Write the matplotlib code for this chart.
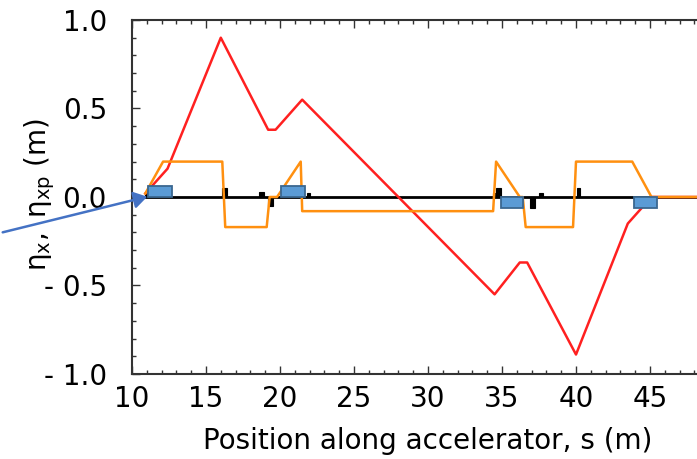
import matplotlib
matplotlib.use("Agg")
import matplotlib.pyplot as plt
from matplotlib.patches import Rectangle
from matplotlib.ticker import MultipleLocator, FuncFormatter

plt.rcParams['font.family'] = ['DejaVu Sans']
plt.rcParams['mathtext.fontset'] = 'dejavusans'

# Dispersion eta_x (red)
s_eta = [10.9, 12.4, 16.0, 19.2, 19.7, 21.5, 34.5, 36.2, 36.7, 40.0, 43.5, 45.1, 50.0]
eta = [0.02, 0.16, 0.90, 0.38, 0.38, 0.55, -0.55, -0.37, -0.37, -0.89, -0.15, 0.0, 0.0]

# Dispersion derivative eta_xp (orange)
s_etap = [10.9, 12.1, 16.1, 16.3, 19.1, 19.3, 19.8, 21.4, 21.5, 34.4, 34.6, 36.2, 36.4, 36.6,
          39.8, 40.0, 43.8, 45.1, 50.0]
etap = [0.02, 0.20, 0.20, -0.17, -0.17, 0.0, 0.0, 0.20, -0.08, -0.08, 0.20, 0.0, 0.0, -0.17,
        -0.17, 0.20, 0.20, 0.0, 0.0]

# Dipoles (blue): start, end, height
dip_s0 = [11.1, 20.1, 34.9, 43.9]
dip_s1 = [12.7, 21.7, 36.4, 45.5]
dip_h = [0.06, 0.06, -0.06, -0.06]

# Small elements (black): start, end, height
q_s0 = [10.9, 16.1, 18.6, 19.2, 21.8, 34.4, 34.6, 36.9, 37.5, 40.1]
q_s1 = [11.1, 16.4, 18.9, 19.5, 22.0, 34.6, 34.9, 37.2, 37.8, 40.3]
q_h = [0.02, 0.05, 0.03, -0.05, 0.02, 0.02, 0.05, -0.06, 0.02, 0.05]

xticks = [10, 15, 20, 25, 30, 35, 40, 45]
yticks = [-1.0, -0.5, 0.0, 0.5, 1.0]

fig = plt.figure(figsize=(6.97, 4.59), dpi=100)
ax = fig.add_axes([132/697, 1 - 374/459, (50 - 10) * 14.8 / 697, (374 - 20) / 459])

ax.axhline(0, color='black', lw=2, zorder=2)
for a, b, h in zip(q_s0, q_s1, q_h):
    ax.add_patch(Rectangle((a, 0), b - a, h, facecolor='black', edgecolor='black', lw=0.8, zorder=3))
ax.plot(s_eta, eta, color='#ff2020', lw=1.8, zorder=4)
ax.plot(s_etap, etap, color='#ff9010', lw=1.8, zorder=4)
for a, b, h in zip(dip_s0, dip_s1, dip_h):
    ax.add_patch(Rectangle((a, 0), b - a, h, facecolor='#5b9bd5', edgecolor='#3a6790', lw=1.3, zorder=5))

ax.set_xlim(10, 50)
ax.set_ylim(-1.0, 1.0)
ax.set_xticks(xticks)
ax.set_yticks(yticks)
ax.xaxis.set_minor_locator(MultipleLocator(1))
ax.yaxis.set_minor_locator(MultipleLocator(0.1))

def yfmt(v, pos):
    if v < -1e-9:
        return '- %.1f' % abs(v)
    return '%.1f' % abs(v)
ax.yaxis.set_major_formatter(FuncFormatter(yfmt))

ax.tick_params(which='both', direction='in', top=True, right=False, labelsize=20, color='#333333')
ax.tick_params(which='major', length=6, width=1)
ax.tick_params(which='minor', length=3, width=1)
ax.tick_params(axis='x', pad=8)
ax.tick_params(axis='y', pad=18)
for sp in ['left', 'bottom', 'top']:
    ax.spines[sp].set_color('#333333')
    ax.spines[sp].set_linewidth(1.5)
ax.spines['right'].set_visible(False)

ax.set_xlabel('Position along accelerator, s (m)', fontsize=20, labelpad=10)
ax.set_ylabel(r'$\mathregular{\eta_x,\ \eta_{xp}}$ (m)', fontsize=20)
ax.yaxis.set_label_coords(-0.127, 0.506)

# Blue pointer arrow
fig.patches.append(matplotlib.patches.FancyArrowPatch(
    (0 / 697, 1 - 233 / 459), (150 / 697, 1 - 196 / 459), transform=fig.transFigure,
    arrowstyle='-|>,head_length=8,head_width=5', color='#4472c4', lw=1.8, zorder=10))

fig.savefig('out.png', dpi=100)
